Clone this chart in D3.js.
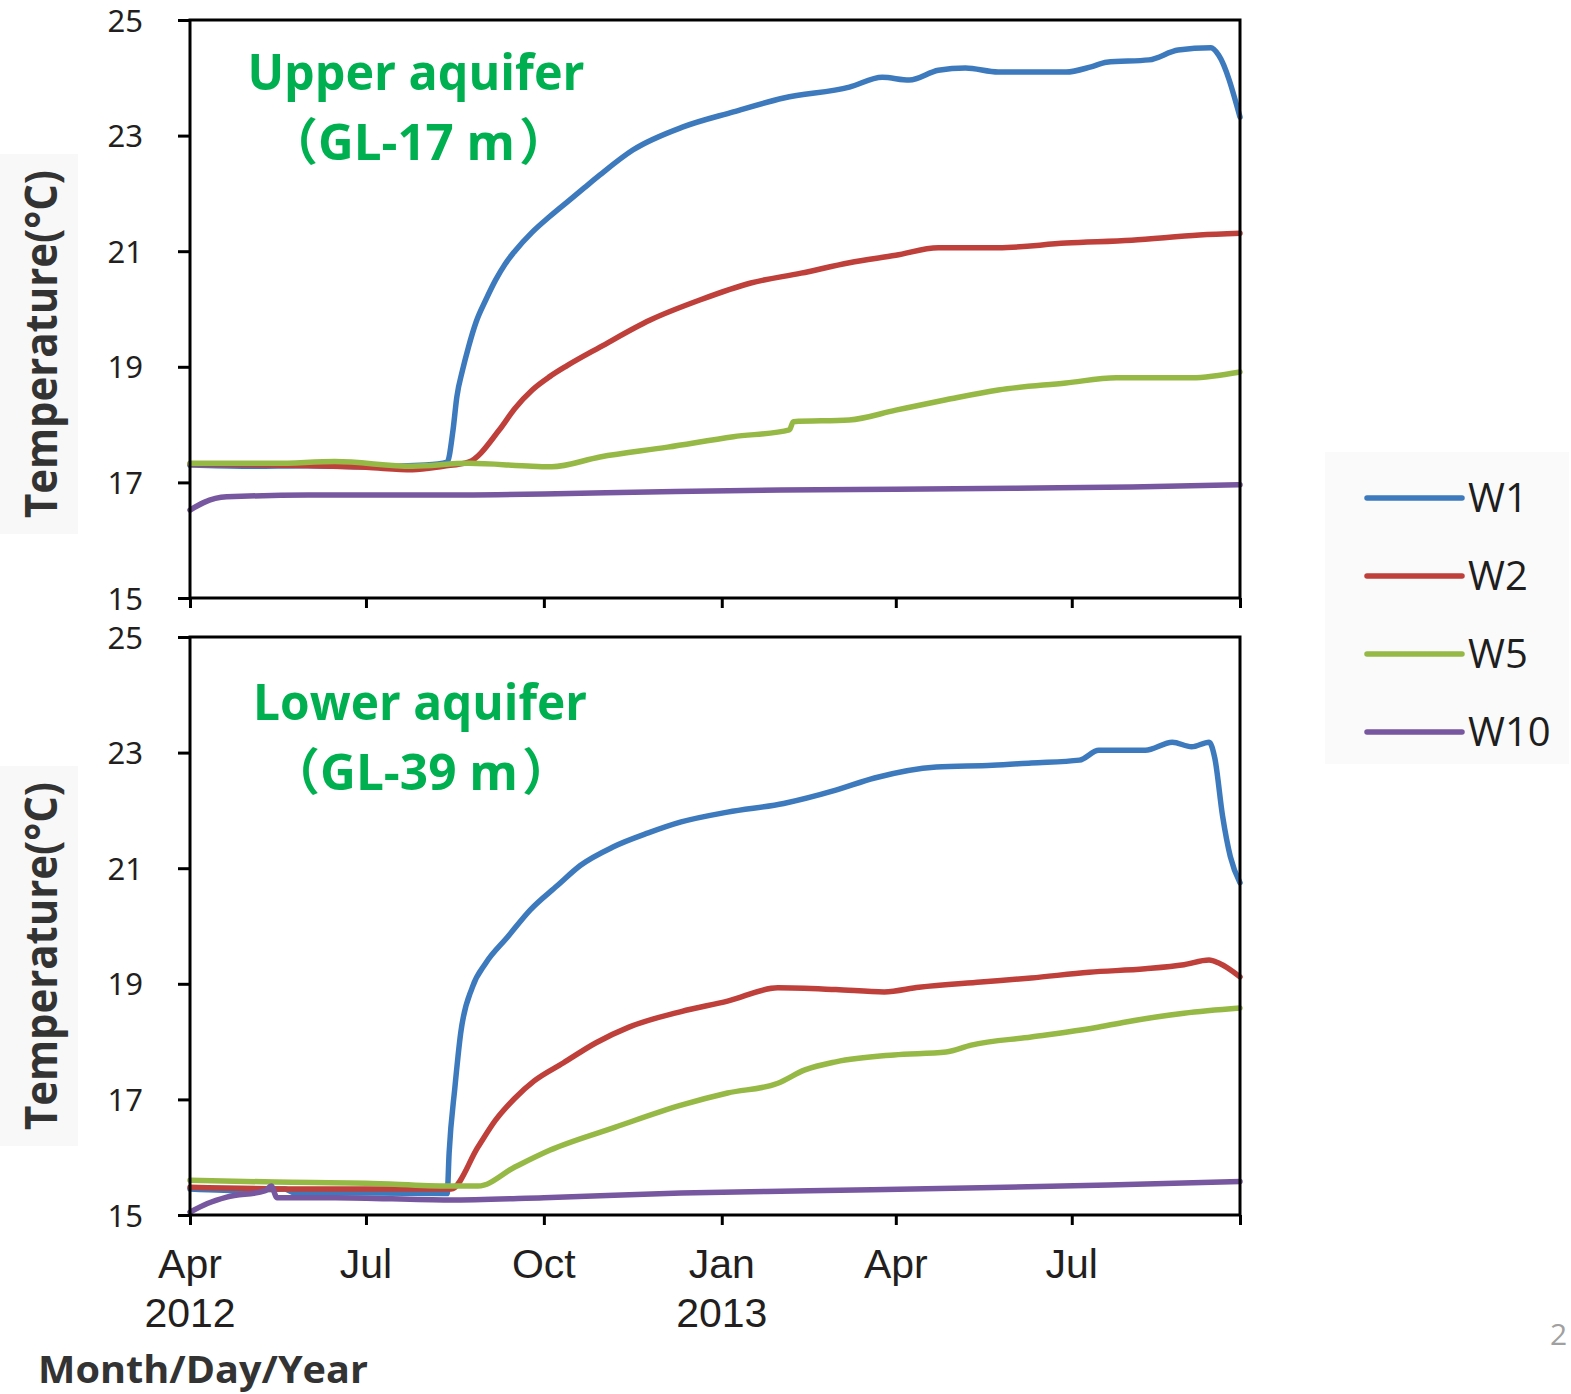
<!DOCTYPE html>
<html>
<head>
<meta charset="utf-8">
<script src="https://cdn.jsdelivr.net/npm/d3@7"></script>
<style>
  html, body { margin: 0; padding: 0; background: #ffffff; }
  svg { display: block; }
</style>
</head>
<body>
<svg id="chart" width="1571" height="1394"></svg>
<script>
// ---------------- DATA ----------------
const seriesNames = ["W1", "W2", "W5", "W10"];
const yTicks = [15, 17, 19, 21, 23, 25];
const xTickDates = ["2012-04-01", "2012-07-01", "2012-10-01", "2013-01-01", "2013-04-01", "2013-07-01"];
const xTickMonths = ["Apr", "Jul", "Oct", "Jan", "Apr", "Jul"];
const xTickYears = ["2012", "", "", "2013", "", ""];
const dateStart = "2012-04-01";
const dateEnd = "2013-09-26";

// Upper aquifer (GL-17 m)
const upperW1 = [
  ["2012-04-01",17.30],["2012-05-01",17.28],["2012-06-01",17.29],["2012-07-01",17.27],["2012-08-01",17.30],
  ["2012-08-12",17.35],["2012-08-15",17.90],["2012-08-17",18.48],["2012-08-20",18.95],["2012-08-23",19.34],
  ["2012-08-27",19.78],["2012-09-01",20.16],["2012-09-06",20.50],["2012-09-11",20.78],["2012-09-16",21.00],
  ["2012-09-25",21.33],["2012-10-04",21.60],["2012-10-13",21.85],["2012-10-22",22.10],["2012-10-30",22.32],
  ["2012-11-16",22.75],["2012-12-12",23.15],["2013-01-07",23.41],["2013-02-02",23.65],["2013-03-08",23.84],
  ["2013-03-25",24.01],["2013-04-08",23.96],["2013-04-23",24.13],["2013-05-07",24.17],["2013-05-24",24.10],
  ["2013-06-28",24.10],["2013-07-11",24.19],["2013-07-19",24.27],["2013-08-10",24.31],["2013-08-25",24.48],
  ["2013-09-11",24.52],["2013-09-15",24.39],["2013-09-26",23.32]
];
const upperW2 = [
  ["2012-04-01",17.32],["2012-05-15",17.30],["2012-07-01",17.26],["2012-07-25",17.22],["2012-08-10",17.28],
  ["2012-08-23",17.35],["2012-09-08",17.91],["2012-09-16",18.28],["2012-09-25",18.60],["2012-10-04",18.83],
  ["2012-10-13",19.02],["2012-10-30",19.34],["2012-11-25",19.81],["2012-12-21",20.16],["2013-01-16",20.45],
  ["2013-02-11",20.62],["2013-03-08",20.80],["2013-04-01",20.93],["2013-04-23",21.06],["2013-05-24",21.06],
  ["2013-06-28",21.14],["2013-08-01",21.19],["2013-09-05",21.28],["2013-09-26",21.31]
];
const upperW5 = [
  ["2012-04-01",17.33],["2012-05-15",17.33],["2012-06-15",17.36],["2012-07-25",17.28],["2012-08-23",17.33],
  ["2012-09-25",17.28],["2012-10-05",17.27],["2012-10-30",17.44],["2012-12-04",17.61],["2013-01-07",17.79],
  ["2013-02-05",17.91],["2013-02-07",18.05],["2013-03-08",18.08],["2013-04-01",18.25],["2013-04-27",18.43],
  ["2013-05-24",18.60],["2013-06-28",18.72],["2013-07-24",18.81],["2013-09-01",18.81],["2013-09-26",18.91]
];
const upperW10 = [
  ["2012-04-01",16.52],["2012-04-08",16.65],["2012-04-20",16.75],["2012-06-01",16.78],["2012-08-01",16.78],
  ["2012-10-01",16.80],["2012-12-01",16.84],["2013-02-01",16.87],["2013-04-01",16.88],["2013-06-01",16.90],
  ["2013-08-01",16.92],["2013-09-26",16.96]
];

// Lower aquifer (GL-39 m)
const lowerW1 = [
  ["2012-04-01",15.45],["2012-05-01",15.42],["2012-05-20",15.45],["2012-05-25",15.38],["2012-07-01",15.38],
  ["2012-08-12",15.37],["2012-08-13",16.07],["2012-08-16",17.21],["2012-08-19",18.15],["2012-08-25",18.94],
  ["2012-09-01",19.36],["2012-09-12",19.80],["2012-09-24",20.28],["2012-10-08",20.70],["2012-10-20",21.05],
  ["2012-11-06",21.37],["2012-11-24",21.61],["2012-12-11",21.80],["2013-01-04",21.97],["2013-02-02",22.12],
  ["2013-03-01",22.35],["2013-03-21",22.56],["2013-04-22",22.75],["2013-05-21",22.78],["2013-06-10",22.82],
  ["2013-07-05",22.87],["2013-07-15",23.04],["2013-08-08",23.04],["2013-08-22",23.18],["2013-09-01",23.10],
  ["2013-09-10",23.18],["2013-09-13",22.90],["2013-09-17",21.90],["2013-09-21",21.20],["2013-09-26",20.75]
];
const lowerW2 = [
  ["2012-04-01",15.48],["2012-06-01",15.45],["2012-08-14",15.45],["2012-08-28",16.18],["2012-09-06",16.64],
  ["2012-09-16",17.02],["2012-09-26",17.32],["2012-10-11",17.63],["2012-10-28",17.98],["2012-11-14",18.25],
  ["2012-12-11",18.52],["2013-01-04",18.70],["2013-01-30",18.93],["2013-03-01",18.90],["2013-03-26",18.86],
  ["2013-04-13",18.94],["2013-05-15",19.03],["2013-06-10",19.10],["2013-07-10",19.20],["2013-08-08",19.26],
  ["2013-08-28",19.33],["2013-09-10",19.41],["2013-09-15",19.36],["2013-09-26",19.12]
];
const lowerW5 = [
  ["2012-04-01",15.60],["2012-05-15",15.57],["2012-07-01",15.55],["2012-08-13",15.50],["2012-08-28",15.50],
  ["2012-09-16",15.83],["2012-10-04",16.12],["2012-11-07",16.52],["2012-12-11",16.90],["2013-01-04",17.11],
  ["2013-01-30",17.28],["2013-02-13",17.51],["2013-03-01",17.65],["2013-03-31",17.77],["2013-04-27",17.82],
  ["2013-05-10",17.94],["2013-06-10",18.08],["2013-07-13",18.24],["2013-07-29",18.34],["2013-08-28",18.49],
  ["2013-09-26",18.58]
];
const lowerW10 = [
  ["2012-04-01",15.05],["2012-04-10",15.20],["2012-04-20",15.31],["2012-05-10",15.42],["2012-05-13",15.50],
  ["2012-05-16",15.30],["2012-06-15",15.30],["2012-08-13",15.26],["2012-10-01",15.30],["2012-12-11",15.38],
  ["2013-02-15",15.42],["2013-05-15",15.47],["2013-07-20",15.52],["2013-09-26",15.58]
];

const seriesColors = ["#3d7abd", "#bf3f3a", "#96b946", "#77579f"];

// ---------------- DRAW ----------------
const parse = d3.timeParse("%Y-%m-%d");
const svg = d3.select("#chart");

const x = d3.scaleTime()
  .domain([parse(dateStart), parse(dateEnd)])
  .range([190, 1240]);

const panels = [
  { top: 20,  bottom: 598,  series: [upperW1, upperW2, upperW5, upperW10],
    title: "Upper aquifer", subMain: "GL-17 m", labels: false,
    titleY: 90, subY: 160, titleX: 416, titleLen: 337, subX: 318, subLen: 197, yTitleC: 344 },
  { top: 637, bottom: 1215, series: [lowerW1, lowerW2, lowerW5, lowerW10],
    title: "Lower aquifer", subMain: "GL-39 m", labels: true,
    titleY: 720, subY: 790, titleX: 420, titleLen: 334, subX: 320, subLen: 198, yTitleC: 956 }
];

const tickDates = xTickDates.map(parse).concat([parse(dateEnd)]);

panels.forEach(p => {
  const y = d3.scaleLinear().domain([15, 25]).range([p.bottom, p.top]);
  const g = svg.append("g");

  // faint background behind y title
  g.append("rect")
    .attr("x", 0).attr("y", p.yTitleC - 190)
    .attr("width", 78).attr("height", 380)
    .attr("fill", "#f8f8f8");

  // lines
  const line = d3.line()
    .x(d => x(parse(d[0])))
    .y(d => y(d[1]))
    .curve(d3.curveMonotoneX);

  p.series.forEach((s, i) => {
    g.append("path")
      .datum(s)
      .attr("d", line)
      .attr("fill", "none")
      .attr("stroke", seriesColors[i])
      .attr("stroke-width", 5.5)
      .attr("stroke-linejoin", "round")
      .attr("stroke-linecap", "round");
  });

  // frame
  g.append("rect")
    .attr("x", 190).attr("y", p.top)
    .attr("width", 1050).attr("height", p.bottom - p.top)
    .attr("fill", "none").attr("stroke", "#000").attr("stroke-width", 3);

  // y axis
  const yAxis = d3.axisLeft(y).tickValues(yTicks).tickSize(12).tickPadding(8).tickFormat(d3.format("d"));
  const ya = g.append("g").attr("transform", "translate(190,0)").call(yAxis);
  ya.select(".domain").remove();
  ya.selectAll(".tick line").attr("stroke", "#000").attr("stroke-width", 3);
  ya.selectAll(".tick text")
    .attr("font-family", "'Noto Sans', 'Liberation Sans', sans-serif")
    .attr("font-size", 31)
    .attr("fill", "#231f20")
    .attr("x", -47)
    .attr("dy", "0.36em");

  // x axis
  const xAxis = d3.axisBottom(x).tickValues(tickDates).tickSize(10).tickFormat("");
  const xa = g.append("g").attr("transform", `translate(0,${p.bottom})`).call(xAxis);
  xa.select(".domain").remove();
  xa.selectAll(".tick line").attr("stroke", "#000").attr("stroke-width", 3);

  if (p.labels) {
    xTickDates.forEach((d, i) => {
      const cx = x(parse(d));
      g.append("text")
        .attr("x", cx).attr("y", 1278)
        .attr("text-anchor", "middle")
        .attr("font-family", "'Liberation Sans', Arial, sans-serif")
        .attr("font-size", 41)
        .attr("fill", "#231f20")
        .text(xTickMonths[i]);
      if (xTickYears[i]) {
        g.append("text")
          .attr("x", cx).attr("y", 1327)
          .attr("text-anchor", "middle")
          .attr("font-family", "'Liberation Sans', Arial, sans-serif")
          .attr("font-size", 41)
          .attr("fill", "#231f20")
          .text(xTickYears[i]);
      }
    });
  }

  // y title
  g.append("text")
    .attr("transform", `translate(57,${p.yTitleC}) rotate(-90)`)
    .attr("text-anchor", "middle")
    .attr("font-family", "'Open Sans', 'Noto Sans', sans-serif")
    .attr("font-weight", "bold")
    .attr("font-size", 45)
    .attr("fill", "#333333")
    .attr("textLength", 348)
    .attr("lengthAdjust", "spacingAndGlyphs")
    .text("Temperature(°C)");

  // annotations
  g.append("text")
    .attr("x", p.titleX).attr("y", p.titleY)
    .attr("text-anchor", "middle")
    .attr("font-family", "'Open Sans', 'Noto Sans', sans-serif")
    .attr("font-weight", "bold")
    .attr("font-size", 51)
    .attr("fill", "#00b050")
    .attr("textLength", p.titleLen)
    .attr("lengthAdjust", "spacingAndGlyphs")
    .text(p.title);

  const sub = g.append("text")
    .attr("y", p.subY)
    .attr("font-weight", "bold")
    .attr("font-size", 51)
    .attr("fill", "#00b050");
  sub.append("tspan")
    .attr("x", p.subX - 50)
    .attr("font-family", "'Noto Sans CJK JP', 'Noto Sans CJK SC', sans-serif")
    .attr("font-size", 50)
    .text("（");
  sub.append("tspan")
    .attr("x", p.subX)
    .attr("font-family", "'Open Sans', 'Noto Sans', sans-serif")
    .attr("textLength", p.subLen)
    .attr("lengthAdjust", "spacingAndGlyphs")
    .text(p.subMain);
  sub.append("tspan")
    .attr("x", p.subX + p.subLen + 4)
    .attr("font-family", "'Noto Sans CJK JP', 'Noto Sans CJK SC', sans-serif")
    .attr("font-size", 50)
    .text("）");
});

// legend
const legend = svg.append("g");
legend.append("rect")
  .attr("x", 1325).attr("y", 452).attr("width", 244).attr("height", 312)
  .attr("fill", "#fafafa");
seriesNames.forEach((name, i) => {
  const ly = 498 + i * 78;
  legend.append("line")
    .attr("x1", 1367).attr("x2", 1462)
    .attr("y1", ly).attr("y2", ly)
    .attr("stroke", seriesColors[i]).attr("stroke-width", 5.5)
    .attr("stroke-linecap", "round");
  legend.append("text")
    .attr("x", 1468).attr("y", ly + 14)
    .attr("font-family", "'Open Sans', 'Noto Sans', sans-serif")
    .attr("font-size", 40)
    .attr("fill", "#1e1e1e")
    .text(name);
});

// x axis title
svg.append("text")
  .attr("x", 38).attr("y", 1383)
  .attr("font-family", "'Open Sans', 'Noto Sans', sans-serif")
  .attr("font-weight", "bold")
  .attr("font-size", 38)
  .attr("fill", "#333333")
  .attr("textLength", 330)
  .attr("lengthAdjust", "spacingAndGlyphs")
  .text("Month/Day/Year");

// page number (cut off at the edge)
svg.append("text")
  .attr("x", 1550).attr("y", 1345)
  .attr("font-family", "'Open Sans', 'Noto Sans', sans-serif")
  .attr("font-size", 30)
  .attr("fill", "#a0a0a0")
  .text("2");
</script>
</body>
</html>
